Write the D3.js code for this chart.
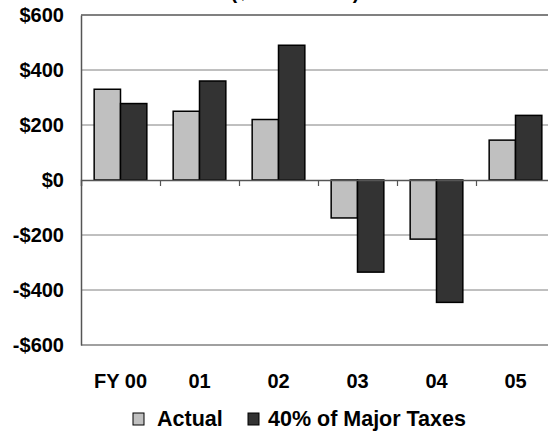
<!DOCTYPE html>
<html>
<head>
<meta charset="utf-8">
<script src="https://cdn.jsdelivr.net/npm/d3@7"></script>
<style>
  html, body { margin: 0; padding: 0; background: #fff; }
  svg { display: block; font-family: "Liberation Sans", Arial, sans-serif; font-weight: bold; }
</style>
</head>
<body>
<svg id="chart" width="548" height="432"></svg>
<script>
// Fiscal years and the two compared series ($ in millions)
const categories = ["FY 00", "01", "02", "03", "04", "05"];
const seriesNames = ["Actual", "40% of Major Taxes"];
const actual = [330, 250, 220, -138, -215, 145];
const majorTaxes40 = [278, 360, 490, -335, -445, 235];
const yTicks = [-600, -400, -200, 0, 200, 400, 600];
const yTickLabels = ["-$600", "-$400", "-$200", "$0", "$200", "$400", "$600"];
const colors = ["#c0c0c0", "#333333"];

const svg = d3.select("#chart");
const plot = { left: 81, right: 555, top: 15, bottom: 345 };

const x = d3.scaleBand()
  .domain(categories)
  .range([plot.left, plot.right])
  .paddingInner(1 / 3)
  .paddingOuter(1 / 6);
const xs = d3.scaleBand().domain(seriesNames).range([0, x.bandwidth()]);
const y = d3.scaleLinear().domain([-600, 600]).range([plot.bottom, plot.top]);

// Title (runs off the top edge)
svg.append("text")
  .attr("x", 295).attr("y", -1.5)
  .attr("text-anchor", "middle")
  .attr("font-size", 20)
  .attr("fill", "#000")
  .text("($ in millions)");

// Horizontal gridlines
svg.append("g").selectAll("line")
  .data(yTicks.filter(v => v !== 0 && Math.abs(v) !== 600))
  .join("line")
  .attr("x1", plot.left).attr("x2", plot.right)
  .attr("y1", d => y(d)).attr("y2", d => y(d))
  .attr("stroke", "#808080").attr("stroke-width", 1);

// Plot frame: top and bottom edges
svg.append("line")
  .attr("x1", plot.left).attr("x2", plot.right)
  .attr("y1", y(600)).attr("y2", y(600))
  .attr("stroke", "#808080").attr("stroke-width", 2);
svg.append("line")
  .attr("x1", plot.left).attr("x2", plot.right)
  .attr("y1", y(-600)).attr("y2", y(-600))
  .attr("stroke", "#808080").attr("stroke-width", 1.5);

// Y axis with dollar labels
const yAxis = d3.axisLeft(y)
  .tickValues(yTicks)
  .tickSize(0)
  .tickPadding(17)
  .tickFormat((d, i) => yTickLabels[i]);
const gy = svg.append("g")
  .attr("transform", `translate(${plot.left},0)`)
  .call(yAxis);
gy.select(".domain").attr("stroke", "#555").attr("stroke-width", 1.5);
gy.selectAll("text")
  .attr("font-size", 20)
  .attr("font-family", "'Liberation Sans', Arial, sans-serif")
  .attr("font-weight", "bold")
  .attr("fill", "#000");

// Bars
const rows = categories.map((c, i) => ({ cat: c, vals: [actual[i], majorTaxes40[i]] }));
const groups = svg.append("g").selectAll("g")
  .data(rows)
  .join("g")
  .attr("transform", d => `translate(${x(d.cat)},0)`);
groups.selectAll("rect")
  .data(d => d.vals.map((v, k) => ({ name: seriesNames[k], v, k })))
  .join("rect")
  .attr("x", d => xs(d.name))
  .attr("width", xs.bandwidth())
  .attr("y", d => y(Math.max(0, d.v)))
  .attr("height", d => Math.abs(y(d.v) - y(0)))
  .attr("fill", d => colors[d.k])
  .attr("stroke", "#000")
  .attr("stroke-width", 1.5);

// Zero line with category ticks below it
const step = x.step();
const x0 = x(categories[0]) - step * x.paddingOuter();
const xAxis = d3.axisBottom(d3.scaleLinear().domain([0, categories.length]).range([x0, x0 + step * categories.length]))
  .tickValues(d3.range(1, categories.length))
  .tickSize(6)
  .tickFormat("");
const gx = svg.append("g")
  .attr("transform", `translate(0,${y(0)})`)
  .call(xAxis);
gx.select(".domain").attr("stroke", "#555").attr("stroke-width", 1.5);
gx.selectAll(".tick line").attr("stroke", "#555").attr("stroke-width", 1.2);

// Category labels below the plot
svg.append("g").selectAll("text")
  .data(categories)
  .join("text")
  .attr("x", d => x(d) + x.bandwidth() / 2)
  .attr("y", 388)
  .attr("text-anchor", "middle")
  .attr("font-size", 20)
  .attr("fill", "#000")
  .text(d => d);

// Legend
const legendItems = [
  { name: seriesNames[0], color: colors[0], bx: 133, tx: 157 },
  { name: seriesNames[1], color: colors[1], bx: 248, tx: 268 }
];
const lg = svg.append("g").selectAll("g").data(legendItems).join("g");
lg.append("rect")
  .attr("x", d => d.bx).attr("y", 413)
  .attr("width", 11).attr("height", 12)
  .attr("fill", d => d.color)
  .attr("stroke", "#000").attr("stroke-width", 1);
lg.append("text")
  .attr("x", d => d.tx).attr("y", 426)
  .attr("font-size", 21.5)
  .attr("fill", "#000")
  .text(d => d.name);
</script>
</body>
</html>
